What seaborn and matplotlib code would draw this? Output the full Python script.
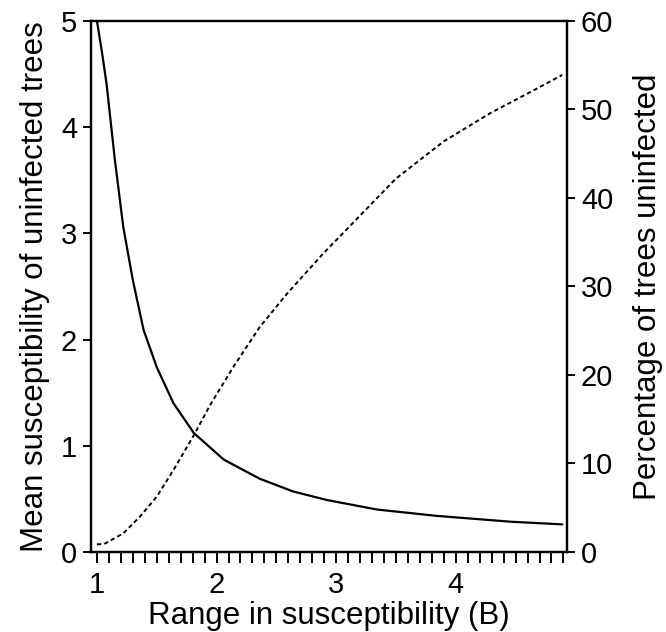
import numpy as np
import pandas as pd
import matplotlib
matplotlib.use("Agg")
import matplotlib.pyplot as plt
import seaborn as sns

# Mean susceptibility of uninfected trees (left axis)
mean_B = [1.00, 1.04, 1.08, 1.15, 1.22, 1.30, 1.39, 1.50, 1.64, 1.81, 2.06, 2.36,
          2.64, 2.92, 3.34, 3.84, 4.46, 4.89]
mean_sus = [5.00, 4.72, 4.41, 3.69, 3.06, 2.56, 2.09, 1.74, 1.40, 1.12, 0.87, 0.69,
            0.57, 0.49, 0.40, 0.34, 0.285, 0.26]

# Percentage of trees uninfected (right axis)
pct_B = [1.00, 1.06, 1.22, 1.36, 1.50, 1.64, 1.81, 1.95, 2.14, 2.36, 2.59, 2.89,
         3.12, 3.50, 3.90, 4.29, 4.60, 4.89]
pct_unf = [0.87, 0.9, 2.1, 4.0, 6.25, 9.27, 13.2, 16.7, 20.9, 25.4, 29.2, 33.7,
           36.9, 42.2, 46.4, 49.6, 51.8, 53.9]

x_ticks = [1, 2, 3, 4]
left_ticks = [0, 1, 2, 3, 4, 5]
right_ticks = [0, 10, 20, 30, 40, 50, 60]

sns.set_style("ticks")
plt.rcParams['font.family'] = ['Liberation Sans', 'DejaVu Sans']
plt.rcParams['text.color'] = 'black'
plt.rcParams['axes.labelcolor'] = 'black'
plt.rcParams['xtick.color'] = 'black'
plt.rcParams['ytick.color'] = 'black'

fig = plt.figure(figsize=(6.66, 6.32), dpi=100)
ax = fig.add_axes([0.1366, 0.1266, 0.7148, 0.8402])
ax2 = ax.twinx()

df1 = pd.DataFrame({"B": mean_B, "m": mean_sus})
df2 = pd.DataFrame({"B": pct_B, "p": pct_unf})

sns.lineplot(data=df1, x="B", y="m", ax=ax, color="black", lw=1.6)
sns.lineplot(data=df2, x="B", y="p", ax=ax2, color="black", lw=1.4,
             linestyle=(0, (2.2, 1.6)))

ax.set_xlim(0.95, 4.93)
ax.set_ylim(0, 5)
ax2.set_ylim(0, 60)

ax.set_xticks(x_ticks)
ax.set_xticks(np.arange(10, 50) / 10.0, minor=True)
ax.set_yticks(left_ticks)
ax2.set_yticks(right_ticks)

for a in (ax, ax2):
    for s in a.spines.values():
        s.set_linewidth(1.6)
        s.set_color("black")
    a.spines['top'].set_visible(True)
    a.spines['right'].set_visible(True)

ax.tick_params(axis='x', which='both', direction='out', length=8, width=1.4,
               labelsize=21, pad=6, colors='black')
ax.tick_params(axis='y', direction='out', length=6, width=1.4, labelsize=21, pad=4,
               colors='black')
ax2.tick_params(axis='y', direction='out', length=6, width=1.4, labelsize=21, pad=4,
                colors='black')

ax.set_xlabel("Range in susceptibility (B)", fontsize=22.5, color='black')
ax.xaxis.set_label_coords(0.5, -0.092)
ax.set_ylabel("Mean susceptibility of uninfected trees", fontsize=22.5, color='black')
ax.yaxis.set_label_coords(-0.086, 0.5)
ax2.set_ylabel("Percentage of trees uninfected", fontsize=22.5, color='black')
ax2.yaxis.set_label_coords(1.139, 0.5)

fig.savefig("out.png", dpi=100)
